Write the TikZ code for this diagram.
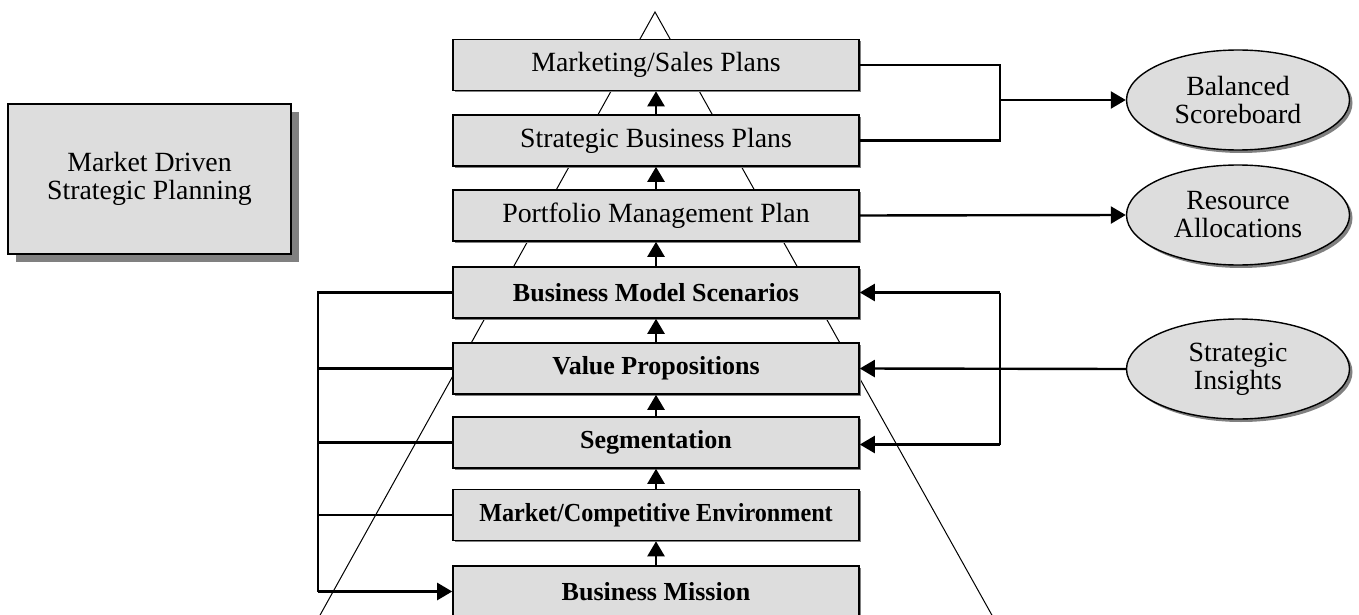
\documentclass[tikz,border=0pt]{standalone}
\usepackage{fontspec}
\setmainfont{Liberation Serif}
\usetikzlibrary{arrows.meta,shadows,shapes.geometric}
\definecolor{boxfill}{HTML}{DDDDDD}
\definecolor{shade}{HTML}{808080}
\tikzset{
  stage/.style={draw=black, line width=0.8pt, fill=boxfill, minimum width=203pt,
    minimum height=25.5pt, inner sep=0pt, font=\fontsize{13.9}{15}\selectfont,
    general shadow={fill=shade, shadow xshift=0.9pt, shadow yshift=-0.9pt}},
  keystage/.style={stage, font=\fontsize{13}{15}\selectfont\bfseries},
  outcome/.style={draw=black, line width=0.7pt, fill=boxfill, ellipse,
    minimum width=111.5pt, minimum height=50pt, inner sep=0pt, align=center,
    font=\fontsize{13.9}{14}\selectfont,
    general shadow={fill=shade, shadow xshift=1.5pt, shadow yshift=-1.5pt}},
  titlebox/.style={draw=black, line width=0.8pt, fill=boxfill, minimum width=141.5pt,
    minimum height=75pt, inner sep=0pt, align=center,
    font=\fontsize{13.9}{14}\selectfont,
    general shadow={fill=shade, shadow xshift=4pt, shadow yshift=-4pt}},
  link/.style={line width=1.2pt},
  flow/.style={link, -{Triangle[length=7.5pt,width=8.5pt]}},
  pyramid/.style={line width=0.5pt},
}
\begin{document}
\begin{tikzpicture}[x=0.5pt,y=-0.5pt]
\useasboundingbox (0,0) rectangle (1359,615);
\clip (0,0) rectangle (1359,615);
\fill[white] (0,0) rectangle (1359,615);

% pyramid outline behind the stages
\coordinate (apex) at (655,12);
\coordinate (baseL) at (314,626);
\coordinate (baseR) at (998,626);
\draw[pyramid] (baseL) -- (apex) -- (baseR);

% planning stages, bottom to top
\node[stage]    (msp) at (656,65)    {Marketing/Sales Plans};
\node[stage]    (sbp) at (656,140.5) {Strategic Business Plans};
\node[stage]    (pmp) at (656,215.5) {Portfolio Management Plan};
\node[keystage] (bms) at (656,292.5) {Business Model Scenarios};
\node[keystage] (vp)  at (656,368.5) {Value Propositions};
\node[keystage] (seg) at (656,442.5) {Segmentation};
\node[keystage] (mce) at (656,515)
  {\scalebox{0.93}[1]{Market/Competitive Environment}};
\node[keystage] (bm)  at (656,591.5) {Business Mission};

% title box
\node[titlebox] (title) at (149.5,179) {Market Driven\\Strategic Planning};

% outcomes
\node[outcome] (bsc) at (1238,100) {Balanced\\Scoreboard};
\node[outcome] (ra)  at (1238,215) {Resource\\Allocations};
\node[outcome] (si)  at (1238,369) {Strategic\\Insights};

% upward flow between stages
\draw[flow] (bm.north)  -- (mce.south);
\draw[flow] (mce.north) -- (seg.south);
\draw[flow] (seg.north) -- (vp.south);
\draw[flow] (vp.north)  -- (bms.south);
\draw[flow] (bms.north) -- (pmp.south);
\draw[flow] (pmp.north) -- (sbp.south);
\draw[flow] (sbp.north) -- (msp.south);

% feedback bus on the left
\coordinate (busTop) at (318,292.5);
\draw[link] (bms.west) -- (busTop) -- (318,591.5);
\draw[flow] (318,591.5) -- (bm.west);
\draw[link] (vp.west)  -- (318,368.5);
\draw[link] (seg.west) -- (318,442.5);
\draw[link] (mce.west) -- (318,515);

% plans feeding the balanced scoreboard
\coordinate (join) at (1000,100);
\draw[link] (msp.east) -- (1000,65) -- (1000,140.5) -- (sbp.east);
\draw[flow] (join) -- (bsc.west);

% portfolio to resources
\draw[flow] (pmp.east) -- (ra.west);

% strategic insights feeding the stages
\draw[flow] (si.west) -- (vp.east);
\coordinate (fork) at (1000,292.5);
\draw[flow] (fork) -- (bms.east);
\draw[link] (fork) -- (1000,444.5);
\draw[flow] (1000,444.5) -- ([yshift=-1pt]seg.east);
\end{tikzpicture}
\end{document}
